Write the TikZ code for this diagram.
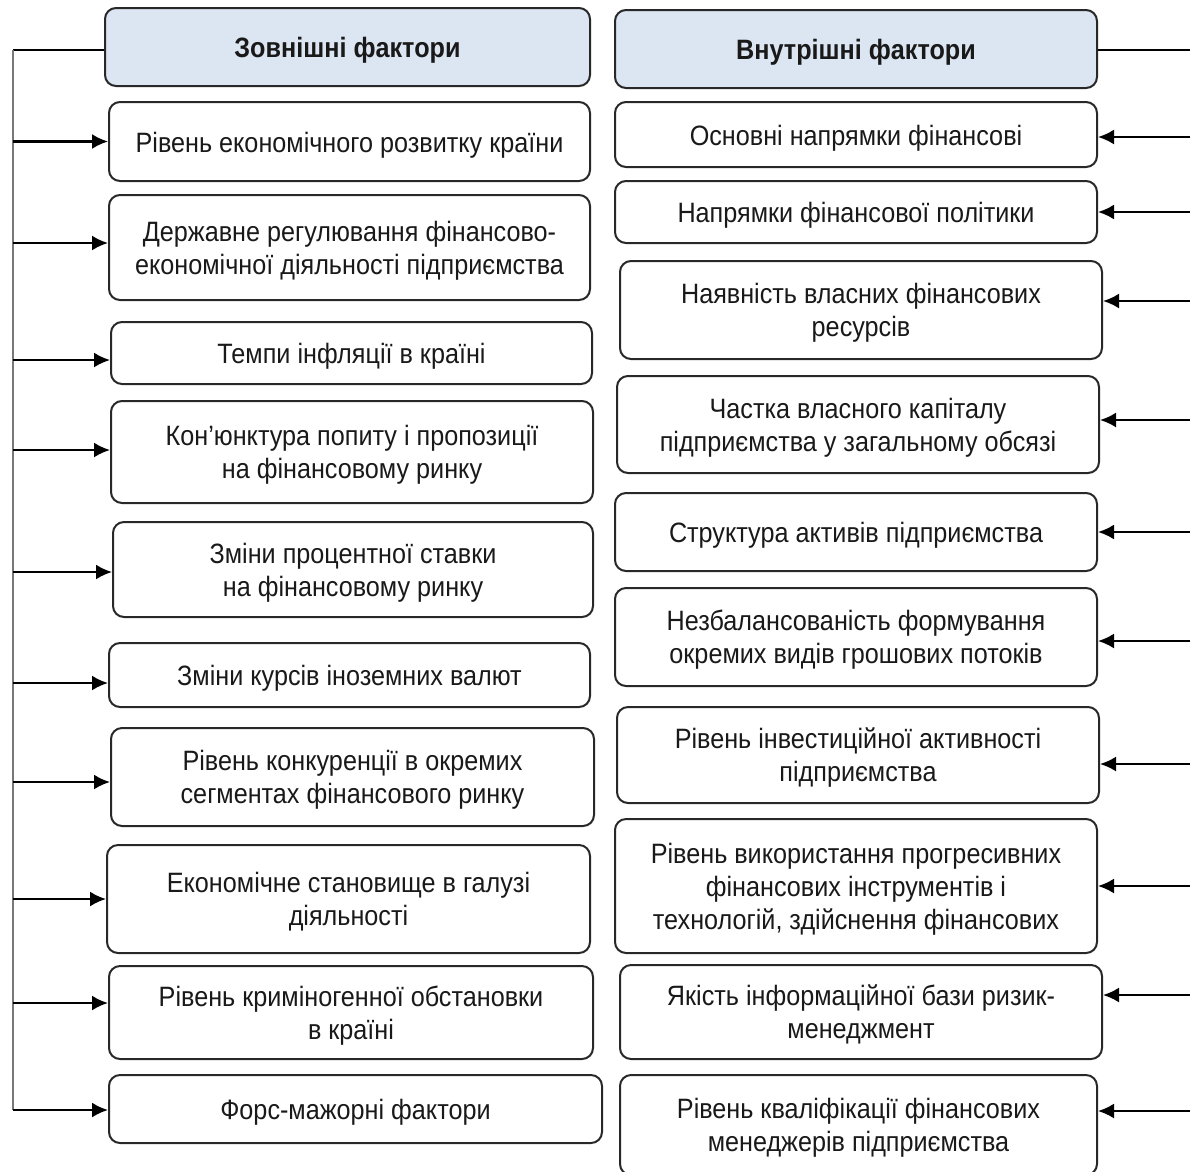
\documentclass[tikz,border=0pt]{standalone}
\usepackage{fontspec}
\setmainfont{Liberation Sans}[FakeStretch=0.9]
\usepackage{tikz}
\usetikzlibrary{arrows.meta}
\usetikzlibrary{positioning}
\tikzset{>={Latex[length=16pt, width=15pt]}}
\definecolor{headfill}{RGB}{220,230,242}
\definecolor{boxline}{RGB}{40,40,40}
\definecolor{trunkgray}{RGB}{120,120,120}
\tikzset{factor/.style={draw=boxline, line width=2pt, rounded corners=11pt, align=center, inner sep=0pt, font=\fontsize{28}{33}\selectfont, text=black!90,
    execute at begin node={\rule{0pt}{21pt}}, text depth=0pt}}
\tikzset{header/.style={factor, fill=headfill, font=\fontsize{28}{33}\selectfont\bfseries}}
\tikzset{link/.style={->, line width=2.2pt, draw=black}}

\begin{document}
\begin{tikzpicture}[x=1pt, y=-1pt]
        \useasboundingbox (0, 0) rectangle (1190, 1171);
        \clip (0, 0) rectangle (1190, 1171);

        % External factors
        \node[header, minimum width=485pt, minimum height=78pt] (ext) at (347.5, 47) {Зовнішні фактори};
        \node[factor, minimum width=481pt, minimum height=79pt] (ext1) at (349.5, 141.5) {Рівень економічного розвитку країни};
        \node[factor, minimum width=481pt, minimum height=105pt] (ext2) at (349.5, 247.5) {Державне регулювання фінансово-\\економічної діяльності підприємства};
        \node[factor, minimum width=481pt, minimum height=62pt] (ext3) at (351.5, 353) {Темпи інфляції в країні};
        \node[factor, minimum width=482pt, minimum height=102pt] (ext4) at (352, 452) {Кон’юнктура попиту і пропозиції\\на фінансовому ринку};
        \node[factor, minimum width=480pt, minimum height=95pt] (ext5) at (353, 569.5) {Зміни процентної ставки\\на фінансовому ринку};
        \node[factor, minimum width=481pt, minimum height=64pt] (ext6) at (349.5, 675) {Зміни курсів іноземних валют};
        \node[factor, minimum width=483pt, minimum height=98pt] (ext7) at (352.5, 777) {Рівень конкуренції в окремих\\сегментах фінансового ринку};
        \node[factor, minimum width=483pt, minimum height=108pt] (ext8) at (348.5, 899) {Економічне становище в галузі\\діяльності};
        \node[factor, minimum width=484pt, minimum height=93pt] (ext9) at (351, 1012.5) {Рівень криміногенної обстановки\\в країні};
        \node[factor, minimum width=493pt, minimum height=68pt] (ext10) at (355.5, 1109) {Форс-мажорні фактори};

        % Internal factors
        \node[header, minimum width=482pt, minimum height=78pt] (int) at (856, 49) {Внутрішні фактори};
        \node[factor, minimum width=482pt, minimum height=65pt] (int1) at (856, 134.5) {Основні напрямки фінансові};
        \node[factor, minimum width=482pt, minimum height=62pt] (int2) at (856, 212) {Напрямки фінансової політики};
        \node[factor, minimum width=482pt, minimum height=98pt] (int3) at (861, 310) {Наявність власних фінансових\\ресурсів};
        \node[factor, minimum width=482pt, minimum height=97pt] (int4) at (858, 424.5) {Частка власного капіталу\\підприємства у загальному обсязі};
        \node[factor, minimum width=482pt, minimum height=78pt] (int5) at (856, 532) {Структура активів підприємства};
        \node[factor, minimum width=482pt, minimum height=98pt] (int6) at (856, 637) {Незбалансованість формування\\окремих видів грошових потоків};
        \node[factor, minimum width=482pt, minimum height=96pt] (int7) at (858, 755) {Рівень інвестиційної активності\\підприємства};
        \node[factor, minimum width=482pt, minimum height=134pt] (int8) at (856, 886) {Рівень використання прогресивних\\фінансових інструментів і\\технологій, здійснення фінансових};
        \node[factor, minimum width=482pt, minimum height=94pt] (int9) at (861, 1012) {Якість інформаційної бази ризик-\\менеджмент};
        \node[factor, minimum width=477pt, minimum height=100pt] (int10) at (858.5, 1125) {Рівень кваліфікації фінансових\\менеджерів підприємства};

        % Trunks
        \coordinate (ltop) at (13, 50);
        \coordinate (lbot) at (13, 1110);
        \coordinate (redge) at (1190, 50);
        \draw[line width=1.5pt] (ext.west |- ltop) -- (ltop);
        \draw[line width=1.5pt, draw=trunkgray] (ltop) -- (lbot);
        \draw[line width=1.5pt] (int.east |- redge) -- (redge);

        % Arrow ends
        \coordinate (e1) at (ext1.west);
        \coordinate (e2) at ([yshift=4.5pt]ext2.west);
        \coordinate (e3) at ([yshift=-7pt]ext3.west);
        \coordinate (e4) at ([yshift=2pt]ext4.west);
        \coordinate (e5) at ([yshift=-2.5pt]ext5.west);
        \coordinate (e6) at ([yshift=-8pt]ext6.west);
        \coordinate (e7) at ([yshift=-5pt]ext7.west);
        \coordinate (e8) at (ext8.west);
        \coordinate (e9) at ([yshift=9.5pt]ext9.west);
        \coordinate (e10) at (lbot -| ext10.west);
        \coordinate (i1) at ([yshift=-2.5pt]int1.east);
        \coordinate (i2) at (int2.east);
        \coordinate (i3) at ([yshift=9pt]int3.east);
        \coordinate (i4) at ([yshift=4.5pt]int4.east);
        \coordinate (i5) at (int5.east);
        \coordinate (i6) at ([yshift=-4pt]int6.east);
        \coordinate (i7) at ([yshift=-9pt]int7.east);
        \coordinate (i8) at (int8.east);
        \coordinate (i9) at ([yshift=17pt]int9.east);
        \coordinate (i10) at ([yshift=14pt]int10.east);

        % Arrows
        \draw[link] (ltop |- e1) -- (e1);
        \draw[link] (ltop |- e2) -- (e2);
        \draw[link] (ltop |- e3) -- (e3);
        \draw[link] (ltop |- e4) -- (e4);
        \draw[link] (ltop |- e5) -- (e5);
        \draw[link] (ltop |- e6) -- (e6);
        \draw[link] (ltop |- e7) -- (e7);
        \draw[link] (ltop |- e8) -- (e8);
        \draw[link] (ltop |- e9) -- (e9);
        \draw[link] (lbot) -- (e10);
        \draw[link] (redge |- i1) -- (i1);
        \draw[link] (redge |- i2) -- (i2);
        \draw[link] (redge |- i3) -- (i3);
        \draw[link] (redge |- i4) -- (i4);
        \draw[link] (redge |- i5) -- (i5);
        \draw[link] (redge |- i6) -- (i6);
        \draw[link] (redge |- i7) -- (i7);
        \draw[link] (redge |- i8) -- (i8);
        \draw[link] (redge |- i9) -- (i9);
        \draw[link] (redge |- i10) -- (i10);
    \end{tikzpicture}
\end{document}
